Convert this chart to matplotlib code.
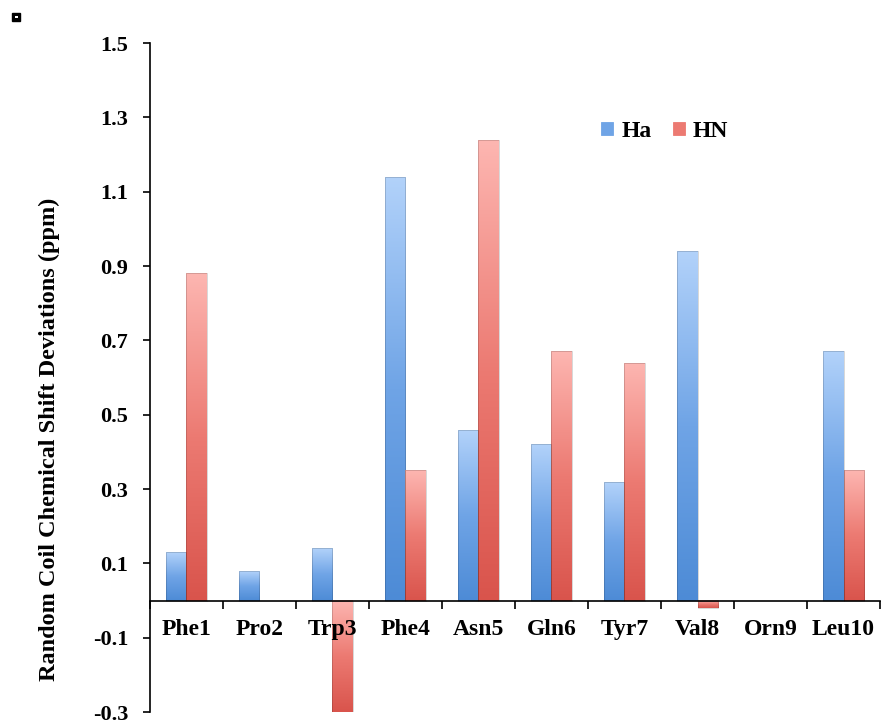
import numpy as np
import matplotlib
matplotlib.use("Agg")
import matplotlib.pyplot as plt
from matplotlib.colors import LinearSegmentedColormap
from matplotlib.patches import Rectangle

residues = ["Phe1", "Pro2", "Trp3", "Phe4", "Asn5", "Gln6", "Tyr7", "Val8", "Orn9", "Leu10"]
ha = [0.13, 0.08, 0.14, 1.14, 0.46, 0.42, 0.32, 0.94, 0.0, 0.67]
hn = [0.88, 0.0, -0.32, 0.35, 1.24, 0.67, 0.64, -0.02, 0.0, 0.35]

plt.rcParams['font.family'] = ['Liberation Serif', 'DejaVu Serif']
plt.rcParams['font.weight'] = 'bold'

fig = plt.figure(figsize=(8.81, 7.23), dpi=100)
ax = fig.add_axes([0.170, 0.0152, 0.829, 0.9253])
ax.set_axisbelow(False)

x = np.arange(len(residues))
w = 0.28
ymin, ymax = -0.3, 1.5
blue_cmap = LinearSegmentedColormap.from_list("b", ["#4d8bd6", "#6fa4e6", "#b2d2fa"])
red_cmap = LinearSegmentedColormap.from_list("r", ["#d9544c", "#ec7a72", "#fdb6b1"])

bars_ha = ax.bar(x - w / 2, ha, w, color="#7fb0ea", edgecolor="none", label="Ha", zorder=1)
bars_hn = ax.bar(x + w / 2, hn, w, color="#f08a84", edgecolor="none", label="HN", zorder=1)

# vertical gradient inside each bar (light at top)
grad = np.linspace(0, 1, 256).reshape(-1, 1)
for bars, cmap in [(bars_ha, blue_cmap), (bars_hn, red_cmap)]:
    for b in bars:
        h = b.get_height()
        if h == 0:
            continue
        x0 = b.get_x()
        y0 = max(min(b.get_y(), b.get_y() + h), ymin)
        y1 = min(max(b.get_y(), b.get_y() + h), ymax)
        ax.imshow(grad, cmap=cmap, aspect="auto", origin="lower",
                  extent=(x0, x0 + b.get_width(), y0, y1), zorder=1.2)
        b.set_edgecolor((0, 0, 0, 0.18))
        b.set_linewidth(0.6)
        b.set_zorder(1.3)
        b.set_facecolor("none")

ax.set_xlim(-0.5, len(residues) - 0.5)
ax.set_ylim(ymin, ymax)
yt = np.arange(-0.3, 1.51, 0.2)
ax.set_yticks(yt)
ax.set_yticklabels(["%.1f" % v for v in yt], fontsize=16, fontweight="bold")
ax.tick_params(axis="y", direction="out", length=5, width=1.2, pad=10.5)

ax.spines["top"].set_visible(False)
ax.spines["right"].set_visible(False)
ax.spines["bottom"].set_position(("data", 0))
ax.spines["left"].set_linewidth(1.2)
ax.spines["bottom"].set_linewidth(1.2)

ax.set_xticks(np.arange(len(residues) + 1) - 0.5)
ax.set_xticklabels([])
ax.tick_params(axis="x", which="major", direction="out", length=6, width=1.2)
ax.set_xticks(x, minor=True)
ax.set_xticklabels(residues, minor=True, fontsize=17, fontweight="bold")
ax.tick_params(axis="x", which="minor", length=0, pad=13)

ax.set_ylabel("Random Coil Chemical Shift Deviations (ppm)", fontsize=17.5, fontweight="bold")
ax.yaxis.set_label_coords(-0.123, 0.407)

leg = ax.legend(loc="upper left", bbox_to_anchor=(0.589, 0.915), ncol=2, frameon=False,
                prop={"size": 17, "weight": "bold"}, handlelength=0.5, handleheight=0.5,
                handletextpad=0.35, columnspacing=0.9)
leg.legend_handles[0].set_color("#6fa4e6")
leg.legend_handles[1].set_color("#ec7a72")

fig.patches.append(Rectangle((0.0136, 0.971), 0.0091, 0.011, transform=fig.transFigure,
                             facecolor="black", edgecolor="black", figure=fig))
fig.patches.append(Rectangle((0.0165, 0.9745), 0.0034, 0.004, transform=fig.transFigure,
                             facecolor="white", edgecolor="none", figure=fig))

fig.savefig("out.png", dpi=100)
